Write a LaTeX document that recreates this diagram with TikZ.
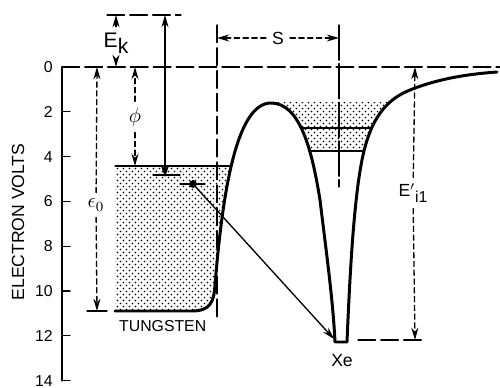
\documentclass[tikz,border=0pt]{standalone}
\usepackage{fontspec}
\setmainfont{Liberation Sans}
\usetikzlibrary{arrows.meta, patterns.meta, positioning, calc}
\tikzdeclarepattern{
  name=stippledots,
  bottom left={(0pt,0pt)},
  top right={(3.4pt,3.4pt)},
  tile size={(3.4pt,3.4pt)},
  code={
    \fill (0.85pt,0.85pt) circle (0.55pt);
    \fill (2.55pt,2.55pt) circle (0.55pt);
  }
}

\begin{document}
\begin{tikzpicture}[x=0.2mm, y=-0.2mm, line join=round, line cap=round,
    wall/.style={line width=1.7pt},
    thinline/.style={line width=0.75pt},
    longdash/.style={line width=0.75pt, dash pattern=on 10pt off 3pt},
    shortdash/.style={line width=0.75pt, dash pattern=on 3pt off 2pt},
    headed/.style={-{Stealth[length=7pt, width=4pt]}},
    stipple/.style={pattern=stippledots}]
      \useasboundingbox (0,0) rectangle (500,388);
      % energy scale: 0 eV at y=67, 22.4 units per eV
      \coordinate (zero) at (62,67);
      \coordinate (bot) at (62,381);
      \draw[thinline] (zero) -- (bot);
      \foreach \e in {0,2,...,14} {
        \draw[thinline] (62,{67+22.4*\e}) -- (70,{67+22.4*\e});
        \node[anchor=east, inner sep=0pt, font=\small] (t\e) at (53,{67+22.4*\e}) {\e};
      }
      \node[rotate=90] (ev) at (18,222) {ELECTRON VOLTS};
      \draw[longdash] (zero) -- (500,67);
      \draw[longdash] (107,15) -- (181,15);
      % stippled bands
      \begin{scope}
        \clip (115,166) rectangle (240,311);
        \fill[stipple] (115,311) -- (192,311) .. controls (210,311) and (214,302) .. (215,285)
          .. controls (222,200) and (235,103) .. (271,103) -- (115,103) -- cycle;
      \end{scope}
      \begin{scope}
        \clip (260,103) rectangle (420,151);
        \fill[stipple] (271,103) .. controls (300,103) and (312,150) .. (320,200) -- (362,200)
          -- (362,160) .. controls (370,120) and (385,100) .. (410,90) -- (271,90) -- cycle;
      \end{scope}
      \draw[thinline] (115,166) -- (231,166);
      \draw[thinline] (301,128) -- (371,128);
      \draw[thinline] (310,151) -- (364,151);
      % potential
      \draw[wall] (115,311) -- (192,311) .. controls (210,311) and (214,302) .. (215,285)
        .. controls (222,200) and (235,103) .. (271,103)
        .. controls (300,103) and (312,150) .. (320,200)
        .. controls (326,250) and (333,300) .. (335,342) -- (347,342)
        .. controls (350,270) and (354,200) .. (362,160)
        .. controls (370,120) and (385,100) .. (410,90)
        .. controls (440,78) and (470,74) .. (497,72);
      % E_k
      \node[font=\large] (ek) at (116,43) {E\raisebox{-0.5ex}{k}};
      \coordinate (ekt) at (116,15);
      \coordinate (ekb) at (116,67);
      \draw[shortdash, headed] (ek) -- (ekt);
      \draw[shortdash, headed] (ek) -- (ekb);
      % phi
      \node (phi) at (135,117) {\large$\phi$};
      \coordinate (phit) at (135,67);
      \coordinate (phib) at (135,166);
      \draw[shortdash, headed] (phi) -- (phit);
      \draw[shortdash, headed] (phi) -- (phib);
      % epsilon_0
      \node (eps) at (96,205) {\large$\epsilon_0$};
      \coordinate (epst) at (97,67);
      \coordinate (epsb) at (97,311);
      \draw[shortdash, headed] (eps) -- (epst);
      \draw[shortdash, headed] (eps) -- (epsb);
      \draw[thinline] (87,311) -- (107,311);
      % electron energy
      \coordinate (et) at (165,15);
      \coordinate (eb) at (165,177);
      \draw[thinline, {Stealth[length=7pt, width=4pt]}-{Stealth[length=7pt, width=5pt]}] (et) -- (eb);
      \draw[thinline] (153,175) -- (180,175);
      \node[circle, fill, inner sep=0pt, minimum size=4.5pt] (el) at (193,184) {};
      \draw[thinline] (180,184) -- (205,184);
      \coordinate (xeb) at (334,339);
      \draw[thinline, headed] (el) -- (xeb);
      % S
      \node (s) at (278,38) {S};
      \coordinate (sl) at (217,38);
      \coordinate (sr) at (339,38);
      \draw[shortdash, headed] (s) -- (sl);
      \draw[shortdash, headed] (s) -- (sr);
      \draw[longdash] (217,25) -- (217,317);
      \draw[thinline, dash pattern=on 20pt off 2pt] (339,25) -- (339,187);
      % E'_i1
      \node (ei) at (413,193) {E$'$\raisebox{-0.6ex}{\small i1}};
      \coordinate (eit) at (415,67);
      \coordinate (eib) at (415,340);
      \draw[shortdash, headed] (ei) -- (eit);
      \draw[shortdash, headed] (ei) -- (eib);
      \draw[longdash] (358,340) -- (425,340);
      \node[font=\small, anchor=west] (w) at (113,326) {TUNGSTEN};
      \node (xe) at (342,361) {Xe};
    \end{tikzpicture}
\end{document}
